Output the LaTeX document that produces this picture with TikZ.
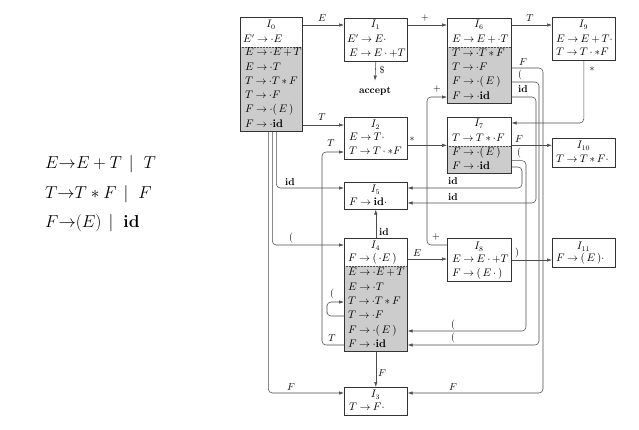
\documentclass[tikz,border=0pt]{standalone}
\usetikzlibrary{arrows.meta}
\begin{document}
\begin{tikzpicture}[x=1pt,y=-1pt,
  stbox/.style={draw=black!80,line width=0.6pt,inner sep=0pt,anchor=north west},
  itm/.style={anchor=west,inner sep=0pt,text height=7pt,text depth=2pt,font=\fontsize{10.5}{12}\selectfont,execute at begin node={\thickmuskip=4mu\relax\medmuskip=3mu\relax}},
  ttl/.style={inner sep=0pt,text height=7pt,text depth=2pt,font=\fontsize{10.5}{12}\selectfont},
  lbl/.style={inner sep=0pt,font=\fontsize{10}{12}\selectfont},
  conn/.style={draw=black!70,line width=0.55pt,rounded corners=4pt,-{Latex[length=5pt,width=3.4pt]}},
  clos/.style={fill=black!20},
  sepline/.style={draw=black!70,densely dotted,line width=0.5pt},
  gram/.style={anchor=west,inner sep=0pt,text height=12pt,text depth=4pt,font=\fontsize{18}{21}\selectfont}
]
\useasboundingbox (0,0) rectangle (639,429);

% grammar
\node[gram] (g1) at (45,164) {$E{\to}E+T\hspace{7pt}|\hspace{10pt}T$};
\node[gram] (g2) at (45,194) {$T{\to}T*F\hspace{7pt}|\hspace{10pt}F$};
\node[gram] (g3) at (45,223) {$F{\to}(E)\hspace{7pt}|\hspace{10pt}\mathbf{id}$};

% closure shading
\fill[clos] (240,47) rectangle (302,131);
\fill[clos] (344,266) rectangle (407,351);
\fill[clos] (447,47) rectangle (511,103);
\fill[clos] (447,146) rectangle (511,173);
\draw[sepline] (240,47) -- (302,47);
\draw[sepline] (344,266) -- (407,266);
\draw[sepline] (447,47) -- (511,47);
\draw[sepline] (447,146) -- (511,146);

% state boxes
\node[stbox,minimum width=62pt,minimum height=114pt] (I0) at (240,17) {};
\node[stbox,minimum width=63pt,minimum height=43pt] (I1) at (344,18) {};
\node[stbox,minimum width=63pt,minimum height=42pt] (I2) at (344,117) {};
\node[stbox,minimum width=63pt,minimum height=28pt] (I3) at (344,387) {};
\node[stbox,minimum width=63pt,minimum height=113pt] (I4) at (344,238) {};
\node[stbox,minimum width=63pt,minimum height=27pt] (I5) at (344,182) {};
\node[stbox,minimum width=64pt,minimum height=85pt] (I6) at (447,18) {};
\node[stbox,minimum width=64pt,minimum height=56pt] (I7) at (447,117) {};
\node[stbox,minimum width=64pt,minimum height=43pt] (I8) at (447,238) {};
\node[stbox,minimum width=63pt,minimum height=43pt] (I9) at (552,17) {};
\node[stbox,minimum width=63pt,minimum height=29pt] (I10) at (552,138) {};
\node[stbox,minimum width=63pt,minimum height=29pt] (I11) at (552,238) {};

% I0
\node[ttl] (I0-0) at (271,25) {$I_0$};
\node[itm] (I0-1) at (243,40) {$E'\to\cdot E$};
\node[itm] (I0-2) at (245,53) {$E\to\cdot E+T$};
\node[itm] (I0-3) at (245,68) {$E\to\cdot T$};
\node[itm] (I0-4) at (245,82) {$T\to\cdot T*F$};
\node[itm] (I0-5) at (245,96) {$T\to\cdot F$};
\node[itm] (I0-6) at (245,110) {$F\to\cdot(\,E\,)$};
\node[itm] (I0-7) at (245,125) {$F\to\cdot\mathbf{id}$};
% I1
\node[ttl] (I1-0) at (375.5,25) {$I_1$};
\node[itm] (I1-1) at (347,40) {$E'\to E\cdot$};
\node[itm] (I1-2) at (349,54) {$E\to E\cdot +T$};
% I2
\node[ttl] (I2-0) at (375.5,125) {$I_2$};
\node[itm] (I2-1) at (349,138) {$E\to T\cdot$};
\node[itm] (I2-2) at (349,152) {$T\to T\cdot *F$};
% I3
\node[ttl] (I3-0) at (375.5,395) {$I_3$};
\node[itm] (I3-1) at (349,408) {$T\to F\cdot$};
% I4
\node[ttl] (I4-0) at (375.5,246) {$I_4$};
\node[itm] (I4-1) at (348,259) {$F\to(\,\cdot E\,)$};
\node[itm] (I4-2) at (348,273) {$E\to\cdot E+T$};
\node[itm] (I4-3) at (348,288) {$E\to\cdot T$};
\node[itm] (I4-4) at (348,302) {$T\to\cdot T*F$};
\node[itm] (I4-5) at (348,316) {$T\to\cdot F$};
\node[itm] (I4-6) at (348,331) {$F\to\cdot(\,E\,)$};
\node[itm] (I4-7) at (348,345) {$F\to\cdot\mathbf{id}$};
% I5
\node[ttl] (I5-0) at (375.5,190) {$I_5$};
\node[itm] (I5-1) at (349,203) {$F\to\mathbf{id}\cdot$};
% I6
\node[ttl] (I6-0) at (479,25) {$I_6$};
\node[itm] (I6-1) at (452,40) {$E\to E+\cdot T$};
\node[itm] (I6-2) at (452,54) {$T\to\cdot T*F$};
\node[itm] (I6-3) at (452,68) {$T\to\cdot F$};
\node[itm] (I6-4) at (452,82) {$F\to\cdot(\,E\,)$};
\node[itm] (I6-5) at (452,97) {$F\to\cdot\mathbf{id}$};
% I7
\node[ttl] (I7-0) at (479,124) {$I_7$};
\node[itm] (I7-1) at (452,139) {$T\to T*\cdot F$};
\node[itm] (I7-2) at (452,153) {$F\to\cdot(\,E\,)$};
\node[itm] (I7-3) at (452,167) {$F\to\cdot\mathbf{id}$};
% I8
\node[ttl] (I8-0) at (479,247) {$I_8$};
\node[itm] (I8-1) at (452,260) {$E\to E\cdot +T$};
\node[itm] (I8-2) at (452,274) {$F\to(\,E\,\cdot\,)$};
% I9
\node[ttl] (I9-0) at (583.5,25) {$I_9$};
\node[itm] (I9-1) at (556,40) {$E\to E+T\cdot$};
\node[itm] (I9-2) at (556,53) {$T\to T\cdot *F$};
% I10
\node[ttl] (I10-0) at (583.5,146) {$I_{10}$};
\node[itm] (I10-1) at (556,160) {$T\to T*F\cdot$};
% I11
\node[ttl] (I11-0) at (583.5,247) {$I_{11}$};
\node[itm] (I11-1) at (556,259) {$F\to(\,E\,)\cdot$};

% accept
\node[lbl,font=\fontsize{10}{12}\selectfont\bfseries] (acc) at (375,91) {accept};

% lanes
\coordinate (laneF6) at (543,200);
\coordinate (laneP6) at (539,200);
\coordinate (laneI6) at (536,150);
\coordinate (laneP7) at (526,250);
\coordinate (laneI7) at (522,178);
\coordinate (lanePlus) at (427,170);
\coordinate (laneLoop) at (327,309);
\coordinate (laneT) at (322,250);

% connectors
\draw[conn] (I0.east |- I0-0) -- (I1.west |- I0-0);
\draw[conn] (I1.east |- I1-0) -- (I6.west |- I1-0);
\draw[conn] (I6.east |- I6-0) -- (I9.west |- I6-0);
\draw[conn] (I1.south) -- ([yshift=6pt]acc.north);
\draw[conn] (I0.east |- I0-7) -- (I2.west |- I0-7);
\draw[conn] (I2.east |- I7.west) -- (I7.west);
\draw[conn] (I9.south) |- ([yshift=-6pt]I7.north east);
\draw[conn] (I7.east) -- (I7.east -| I10.west);
\draw[conn] (I6.east |- I6-3) -| (laneF6) |- ([yshift=-6pt]I3.north east);
\draw[conn] (I6.east |- I6-4) -| (laneP6) |- (I4.east |- I4-7);
\draw[conn] (I6.east |- I6-5) -| (laneI6) |- (I5.east |- I5-1);
\draw[conn] ([yshift=13pt]I7.south east) -| (laneP7) |- (I4.east |- I4-6);
\draw[conn] (I7.east |- I7-3) -| (laneI7) |- ([yshift=-6pt]I5.north east);
\draw[conn] ([yshift=-7pt]I8.north west) -| (lanePlus) |- (I6.west |- I6-5);
\draw[conn] (I4.east |- I4-1) -- (I8.west |- I4-1);
\draw[conn] (I8.east |- I8-1) -- (I11.west |- I8-1);
\draw[conn] (I4.north) -- (I5.south);
\draw[conn] (I4.south) -- (I3.north);
\draw[conn] (I4.west |- I4-5) -| (laneLoop) |- (I4.west |- I4-4);
\draw[conn] (I4.west |- I4-7) -| (laneT) |- (I2.west |- I2-2);
\draw[conn] ([xshift=5pt]I0.south) |- ([yshift=-6pt]I5.north west);
\draw[conn] ([xshift=1pt]I0.south) |- ([yshift=-7pt]I4.north west);
\draw[conn] ([xshift=-3pt]I0.south) |- ([yshift=-6pt]I3.north west);

% labels
\node[lbl] (lE01) at (322,18) {$E$};
\node[lbl] (lP16) at (425,18) {$+$};
\node[lbl] (lT69) at (530,18) {$T$};
\node[lbl] (lDol) at (382,70) {\$};
\node[lbl] (lT02) at (322,117) {$T$};
\node[lbl] (lS27) at (412,139) {$*$};
\node[lbl] (lS97) at (592,69) {$*$};
\node[lbl] (lF710) at (519,139) {$F$};
\node[lbl] (lF6) at (523,62) {$F$};
\node[lbl] (lP6) at (520,75) {$($};
\node[lbl] (lI6) at (523,89) {$\mathbf{id}$};
\node[lbl] (lP7) at (519,153) {$($};
\node[lbl] (lI7b) at (453,181) {$\mathbf{id}$};
\node[lbl] (lI6b) at (453,197) {$\mathbf{id}$};
\node[lbl] (lP7b) at (453,325) {$($};
\node[lbl] (lP6b) at (453,338) {$($};
\node[lbl] (lF6b) at (453,387) {$F$};
\node[lbl] (lPl1) at (437,89) {$+$};
\node[lbl] (lPl2) at (436,237) {$+$};
\node[lbl] (lE48) at (417,253) {$E$};
\node[lbl] (lR811) at (517,253) {$)$};
\node[lbl] (lI45) at (384,232) {$\mathbf{id}$};
\node[lbl] (lF43) at (382,373) {$F$};
\node[lbl] (lP44) at (332,294) {$($};
\node[lbl] (lT42a) at (331,143) {$T$};
\node[lbl] (lT42b) at (332,338) {$T$};
\node[lbl] (lI05) at (290,182) {$\mathbf{id}$};
\node[lbl] (lP04) at (291,238) {$($};
\node[lbl] (lF03) at (291,387) {$F$};
\end{tikzpicture}
\end{document}
